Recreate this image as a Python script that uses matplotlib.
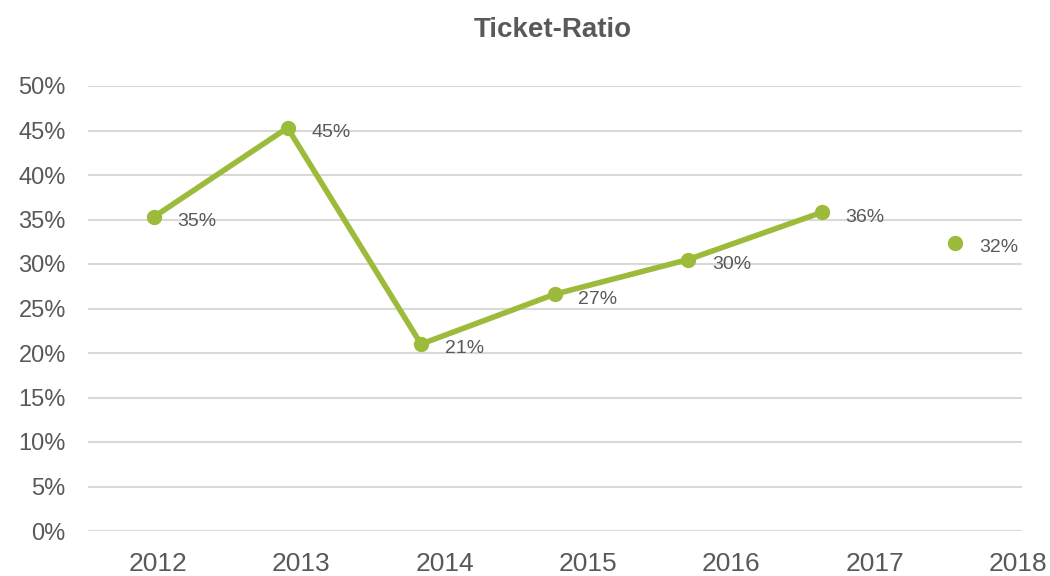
import numpy as np
import matplotlib.pyplot as plt
from matplotlib.ticker import PercentFormatter

years = ["2012", "2013", "2014", "2015", "2016", "2017", "2018"]
ratio = [35.3, 45.3, 21.0, 26.6, 30.5, 35.8, 32.4]
labels = ["35%", "45%", "21%", "27%", "30%", "36%", "32%"]
n_connected = 6  # 2018 is a lone point, no line to it

green = "#9DBB3A"
grey = "#595959"
plt.rcParams["font.family"] = ["Liberation Sans", "DejaVu Sans"]

fig = plt.figure(figsize=(10.5, 5.76), dpi=100)
ax = fig.add_axes([88 / 1050, 1 - 531 / 576, (1022 - 88) / 1050, (531 - 86) / 576])

x = np.arange(len(years))
ax.plot(x[:n_connected], ratio[:n_connected], color=green, lw=4,
        marker="o", ms=10, solid_capstyle="round", zorder=3)
ax.plot(x[n_connected:], ratio[n_connected:], color=green, lw=0,
        marker="o", ms=10, zorder=3)

for xi, yi, lab in zip(x, ratio, labels):
    ax.annotate(lab, (xi, yi), xytext=(17, -3.5), textcoords="offset points",
                ha="left", va="center", fontsize=14, color=grey)

ax.set_ylim(0, 50)
ax.set_yticks(np.arange(0, 51, 5))
ax.yaxis.set_major_formatter(PercentFormatter(decimals=0))
ax.set_xlim(-0.494, 6.50)
ax.set_xticks(np.linspace(0.03, 6.47, len(years)))
ax.set_xticklabels(years)

ax.grid(axis="y", color="#D9D9D9", lw=1.5)
ax.set_axisbelow(True)
for s in ax.spines.values():
    s.set_visible(False)
ax.tick_params(length=0, labelcolor=grey)
ax.tick_params(axis="y", labelsize=17, pad=16)
ax.tick_params(axis="x", labelsize=19, pad=15)

fig.text(553 / 1050, 1 - 30 / 576, "Ticket-Ratio", ha="center", va="center",
         fontsize=20, fontweight="bold", color=grey)

fig.savefig("out.png", dpi=100, facecolor="white")
